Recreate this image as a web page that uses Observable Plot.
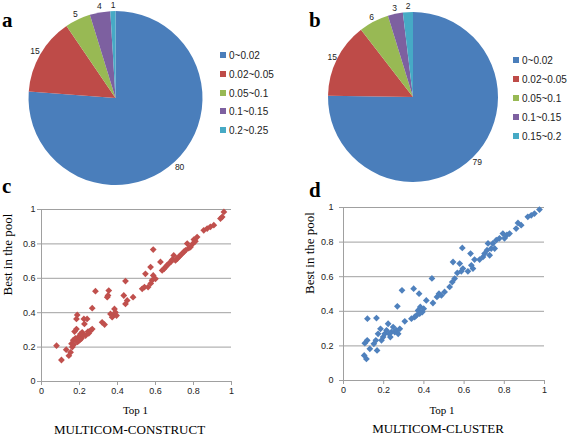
<!DOCTYPE html>
<html><head><meta charset="utf-8">
<script src="https://cdn.jsdelivr.net/npm/d3@7"></script>
<script src="https://cdn.jsdelivr.net/npm/@observablehq/plot@0.6"></script>
<style>
body{margin:0;background:#fff}
#root{position:relative;width:567px;height:437px;overflow:hidden;background:#fff}
.p{position:absolute}
.letter{position:absolute;font-family:"Liberation Serif",serif;font-weight:bold;font-size:21px;line-height:1}
.leg{position:absolute;font-family:"Liberation Sans",sans-serif;font-size:10px;color:#222}
.leg div{position:absolute;white-space:nowrap;line-height:12px}
.leg span{display:inline-block;width:6px;height:6px;margin-right:3px;vertical-align:1px}
</style>
</head><body><div id="root"></div>
<script>
// ---- data ----
const pieLabelsA = ["0~0.02", "0.02~0.05", "0.05~0.1", "0.1~0.15", "0.2~0.25"];
const pieValuesA = [80, 15, 5, 4, 1];
const pieLabelsB = ["0~0.02", "0.02~0.05", "0.05~0.1", "0.1~0.15", "0.15~0.2"];
const pieValuesB = [79, 15, 6, 3, 2];
const pieColors = ["#4a7ebb", "#be4b48", "#98b954", "#7d60a0", "#46aac5"];

const constructTop1 = [0.079,0.105,0.13,0.144,0.153,0.158,0.162,0.167,0.17,0.174,0.178,0.184,0.184,0.188,0.19,0.195,0.198,0.2,0.205,0.21,0.214,0.22,0.223,0.226,0.232,0.24,0.245,0.249,0.258,0.267,0.267,0.284,0.319,0.332,0.346,0.354,0.35,0.363,0.372,0.375,0.384,0.389,0.395,0.433,0.442,0.442,0.451,0.482,0.53,0.542,0.547,0.561,0.575,0.582,0.588,0.574,0.588,0.6,0.626,0.635,0.645,0.653,0.66,0.67,0.68,0.688,0.696,0.705,0.715,0.723,0.732,0.74,0.75,0.758,0.767,0.775,0.784,0.795,0.802,0.81,0.819,0.854,0.872,0.889,0.907,0.942,0.951,0.96];
const constructBest = [0.208,0.125,0.185,0.15,0.17,0.22,0.2,0.24,0.215,0.29,0.25,0.305,0.364,0.387,0.23,0.26,0.257,0.24,0.276,0.25,0.286,0.27,0.364,0.335,0.267,0.364,0.29,0.28,0.296,0.426,0.305,0.525,0.344,0.331,0.49,0.529,0.5,0.393,0.374,0.383,0.422,0.402,0.383,0.5,0.584,0.451,0.471,0.49,0.539,0.549,0.626,0.549,0.57,0.588,0.617,0.665,0.767,0.597,0.695,0.646,0.655,0.665,0.675,0.685,0.695,0.708,0.733,0.704,0.715,0.724,0.735,0.743,0.755,0.763,0.802,0.775,0.782,0.8,0.825,0.815,0.84,0.879,0.889,0.899,0.909,0.947,0.957,0.986];

const clusterTop1 = [0.103,0.114,0.106,0.118,0.119,0.131,0.151,0.161,0.164,0.167,0.172,0.184,0.189,0.197,0.205,0.214,0.222,0.227,0.233,0.238,0.247,0.255,0.263,0.268,0.272,0.28,0.291,0.305,0.338,0.349,0.354,0.363,0.371,0.376,0.379,0.382,0.392,0.399,0.412,0.44,0.445,0.465,0.475,0.487,0.503,0.528,0.541,0.545,0.553,0.566,0.578,0.586,0.591,0.594,0.619,0.632,0.636,0.644,0.652,0.677,0.694,0.702,0.714,0.719,0.727,0.735,0.743,0.752,0.76,0.776,0.793,0.801,0.813,0.826,0.859,0.868,0.884,0.917,0.934,0.95,0.975];
const clusterBest = [0.145,0.125,0.216,0.232,0.357,0.183,0.212,0.232,0.361,0.174,0.27,0.299,0.232,0.251,0.27,0.29,0.328,0.27,0.251,0.28,0.309,0.28,0.29,0.429,0.27,0.299,0.521,0.342,0.357,0.531,0.367,0.376,0.405,0.502,0.386,0.425,0.396,0.415,0.463,0.59,0.448,0.483,0.502,0.492,0.512,0.541,0.569,0.685,0.589,0.622,0.676,0.631,0.766,0.647,0.631,0.734,0.666,0.647,0.699,0.699,0.714,0.734,0.753,0.792,0.724,0.763,0.792,0.763,0.811,0.822,0.849,0.822,0.841,0.849,0.878,0.911,0.898,0.946,0.955,0.965,0.988];

const axisTicks = [0, 0.2, 0.4, 0.6, 0.8, 1];

const root = document.getElementById("root");

function place(node, left, top) {
  node.classList.add("p");
  node.style.left = left + "px";
  node.style.top = top + "px";
  root.appendChild(node);
}

// ---- pie ----
function pie(labels, values, opt) {
  const arcs = d3.pie().sort(null)(values);
  const rows = arcs.map((a, i) => {
    const mid = (a.startAngle + a.endAngle) / 2;
    return {label: labels[i], value: a.value, color: pieColors[i], a, lx: Math.sin(mid) * opt.k, ly: Math.cos(mid) * opt.k};
  });
  const chart = Plot.plot({
    width: opt.w, height: opt.h,
    x: {domain: [-1, 1], range: [opt.cx - opt.r, opt.cx + opt.r], axis: null},
    y: {domain: [-1, 1], range: [opt.cy + opt.r, opt.cy - opt.r], axis: null},
    marks: [
      (index, scales) => {
        const x0 = scales.x(0), y0 = scales.y(0), rr = scales.x(1) - x0;
        const g = d3.create("svg:g").attr("transform", `translate(${x0},${y0})`);
        const arc = d3.arc().innerRadius(0).outerRadius(rr);
        g.selectAll("path").data(rows).join("path")
          .attr("d", d => arc(d.a))
          .attr("fill", d => d.color);
        return g.node();
      },
      Plot.text(rows, {x: "lx", y: "ly", text: d => String(d.value), fontSize: 8.5, fontFamily: "Liberation Sans", fill: "#222"})
    ]
  });
  return {chart, rows};
}

function legend(rows, left, top, step) {
  const div = document.createElement("div");
  div.className = "leg";
  div.style.left = left + "px";
  div.style.top = top + "px";
  rows.forEach((r, i) => {
    const item = document.createElement("div");
    item.style.top = (i * step) + "px";
    item.innerHTML = `<span style="background:${r.color}"></span>${r.label}`;
    div.appendChild(item);
  });
  root.appendChild(div);
}

const pa = pie(pieLabelsA, pieValuesA, {w: 283, h: 200, cx: 115.5, cy: 98, r: 87, k: 1.075});
place(pa.chart, 0, 0);
legend(pa.rows, 220, 50, 18.8);

const pb = pie(pieLabelsB, pieValuesB, {w: 284, h: 200, cx: 130, cy: 97, r: 85, k: 1.07});
place(pb.chart, 283, 0);
legend(pb.rows, 513, 55, 18.9);

// ---- scatter ----
function scatter(xs, ys, color, title, opt) {
  const data = xs.map((x, i) => ({x, y: ys[i]}));
  return Plot.plot({
    width: opt.w, height: 237,
    marginLeft: opt.ml, marginRight: opt.mr, marginTop: opt.mt, marginBottom: opt.mb,
    x: {domain: [0, 1]},
    y: {domain: [0, 1]},
    marks: [
      Plot.gridY(axisTicks, {stroke: "#a0a0a0", strokeOpacity: 1}),
      Plot.ruleX([0], {stroke: "#a0a0a0"}),
      Plot.ruleY([0], {stroke: "#a0a0a0"}),
      Plot.axisX(axisTicks, {tickSize: 4, tickPadding: 2, stroke: "#a0a0a0", fill: "#222", fontSize: 9, fontFamily: "Liberation Sans", label: null, tickFormat: d => String(+d.toFixed(1))}),
      Plot.axisY(axisTicks, {tickSize: 4, tickPadding: opt.yPad, stroke: "#a0a0a0", fill: "#222", fontSize: 9, fontFamily: "Liberation Sans", label: null, tickFormat: d => String(+d.toFixed(1))}),
      Plot.dot(data, {x: "x", y: "y", symbol: "square", rotate: 45, r: 2.7, fill: color, stroke: "none"}),
      Plot.text(["Top 1"], {text: d => d, frameAnchor: "bottom", dy: opt.xlDy, dx: opt.xlDx, fontSize: 11, fontFamily: "Liberation Serif", fill: "#000"}),
      Plot.text([title], {text: d => d, frameAnchor: "bottom", dy: opt.tDy, dx: opt.tDx, fontSize: 13, fontFamily: "Liberation Serif", fill: "#000"}),
      Plot.text(["Best in the pool"], {text: d => d, frameAnchor: "left", rotate: -90, dx: -34, dy: 0, fontSize: 13, fontFamily: "Liberation Serif", fill: "#000"})
    ]
  });
}

place(scatter(constructTop1, constructBest, "#c0504d", "MULTICOM-CONSTRUCT",
  {w: 283, ml: 41, mr: 52, mt: 9, mb: 56, yPad: 2, xlDx: -1, xlDy: 32, tDx: -7, tDy: 52}), 0, 200);
place(scatter(clusterTop1, clusterBest, "#4f81bd", "MULTICOM-CLUSTER",
  {w: 284, ml: 60, mr: 23, mt: 7, mb: 57, yPad: 6, xlDx: -2, xlDy: 33, tDx: -6, tDy: 52}), 283, 200);

// ---- panel letters ----
[["a", 2, 10], ["b", 309, 10], ["c", 2, 176], ["d", 309, 180]].forEach(([t, l, tp]) => {
  const d = document.createElement("div");
  d.className = "letter";
  d.textContent = t;
  d.style.left = l + "px";
  d.style.top = tp + "px";
  root.appendChild(d);
});
</script></body></html>
